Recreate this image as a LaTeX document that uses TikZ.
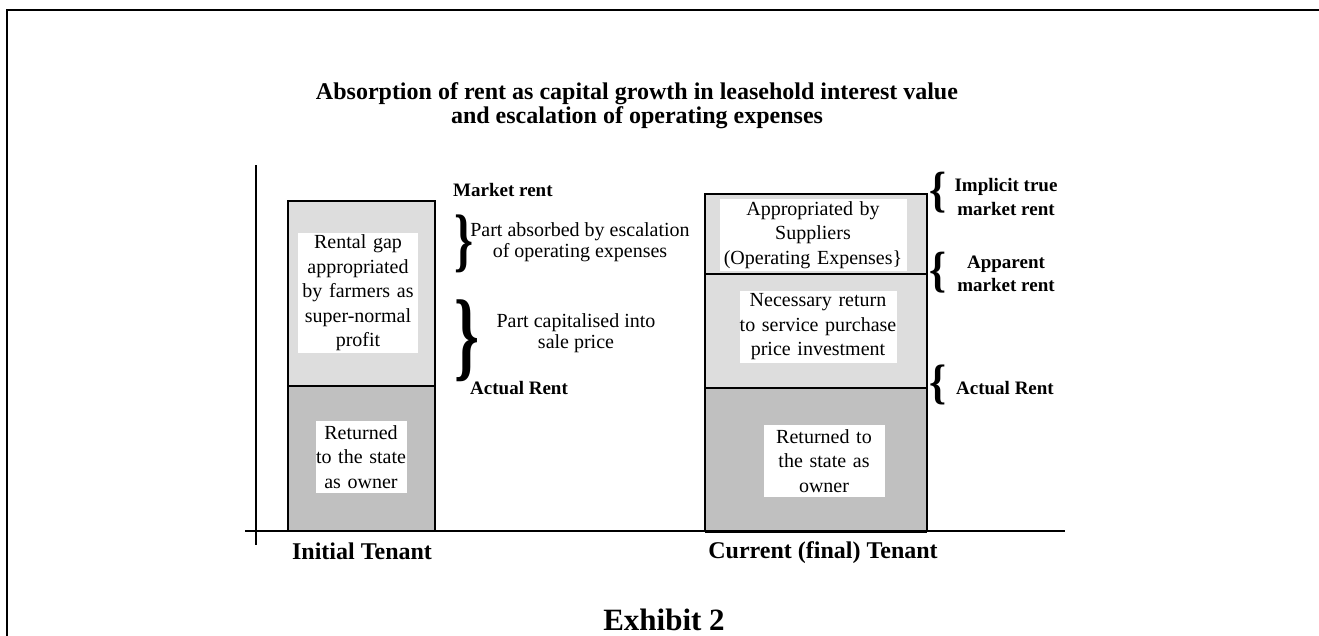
\documentclass[tikz,border=0pt]{standalone}
\usepackage{fontspec}
\setmainfont{Liberation Serif}
\usepackage{tikz}
\definecolor{lightgrey}{RGB}{221,221,221}
\definecolor{darkgrey}{RGB}{192,192,192}
\tikzset{
  whitebox/.style={fill=white, inner sep=0pt, align=center, font=\fontsize{20}{24.5}\selectfont},
  sidetext/.style={inner sep=0pt, align=center, font=\fontsize{20}{21}\selectfont},
  sidelabel/.style={inner sep=0pt, align=center, font=\bfseries\fontsize{19}{23.5}\selectfont},
  footlabel/.style={inner sep=0pt, font=\bfseries\fontsize{24}{28}\selectfont},
  bracenode/.style={inner sep=0pt, font=\bfseries\fontsize{40}{40}\selectfont},
}
% brace glyph stretched to a box
\newcommand{\rbr}[2]{\resizebox*{#1}{#2}{\}}}
\newcommand{\lbr}[2]{\resizebox*{#1}{#2}{\{}}

\begin{document}
\begin{tikzpicture}[x=1pt,y=-1pt]
\useasboundingbox (0,0) rectangle (1319,635);
\draw[line width=2.5pt] (7,640) -- (7,10) -- (1325,10);
\node[inner sep=0pt, align=center, font=\bfseries\fontsize{24}{24}\selectfont] (Title) at (637,106)
  {Absorption of rent as capital growth in leasehold interest value\\and escalation of operating expenses};

% axes
\draw[line width=1.2pt] (256,165) -- (256,545);
\draw[line width=1.2pt] (245,531) -- (1065,531);

% initial tenant
\draw[fill=lightgrey, line width=1.2pt] (288,201) rectangle (435,386);
\draw[fill=darkgrey, line width=1.2pt] (288,386) rectangle (435,531);
\node[whitebox, text width=120pt, minimum height=120pt] (RentalGap) at (358,293)
  {Rental gap\\appropriated\\by farmers as\\super-normal\\profit};
\node[whitebox, text width=91pt, minimum height=72pt] (StateLeft) at (361,457)
  {Returned\\to the state\\as owner};
\node[sidelabel, anchor=west] (MarketRent) at (453,190) {Market rent};
\node[bracenode] (BraceAbsorbed) at (464,244) {\rbr{19pt}{58pt}};
\node[sidetext] (Absorbed) at (580,242) {Part absorbed by escalation\\of operating expenses};
\node[bracenode] (BraceCapital) at (467,341) {\rbr{25pt}{82pt}};
\node[sidetext] (Capitalised) at (576,333) {Part capitalised into\\sale price};
\node[sidelabel, anchor=west] (ActualLeft) at (470,388) {Actual Rent};
\node[footlabel] (Initial) at (362,551) {Initial Tenant};

% current tenant
\draw[fill=lightgrey, line width=2pt] (705,194) rectangle (927,274);
\draw[fill=lightgrey, line width=2pt] (705,274) rectangle (927,388);
\draw[fill=darkgrey, line width=2pt] (705,388) rectangle (927,531);
\draw[line width=3pt] (705,531) -- (927,531);
\node[whitebox, text width=187pt, minimum height=72pt] (Suppliers) at (813,235)
  {Appropriated by\\Suppliers\\(Operating Expenses\}};
\node[whitebox, text width=157pt, minimum height=72pt] (Necessary) at (818,327)
  {Necessary return\\to service purchase\\price investment};
\node[whitebox, text width=121pt, minimum height=72pt] (StateRight) at (824,461)
  {Returned to\\the state as\\owner};
\node[bracenode] (BraceImplicit) at (938,192.5) {\lbr{17pt}{41pt}};
\node[sidelabel] (Implicit) at (1006,197) {Implicit true\\market rent};
\node[bracenode] (BraceApparent) at (938,272.5) {\lbr{17pt}{41pt}};
\node[sidelabel] (Apparent) at (1006,274) {Apparent\\market rent};
\node[bracenode] (BraceActual) at (938,385) {\lbr{17pt}{40pt}};
\node[sidelabel] (ActualRight) at (1005,388) {Actual Rent};
\node[footlabel] (Current) at (823,553) {Current (final) Tenant};

\node[inner sep=0pt, font=\bfseries\fontsize{31}{34}\selectfont] (Exhibit) at (664,620) {Exhibit 2};
\end{tikzpicture}
\end{document}
